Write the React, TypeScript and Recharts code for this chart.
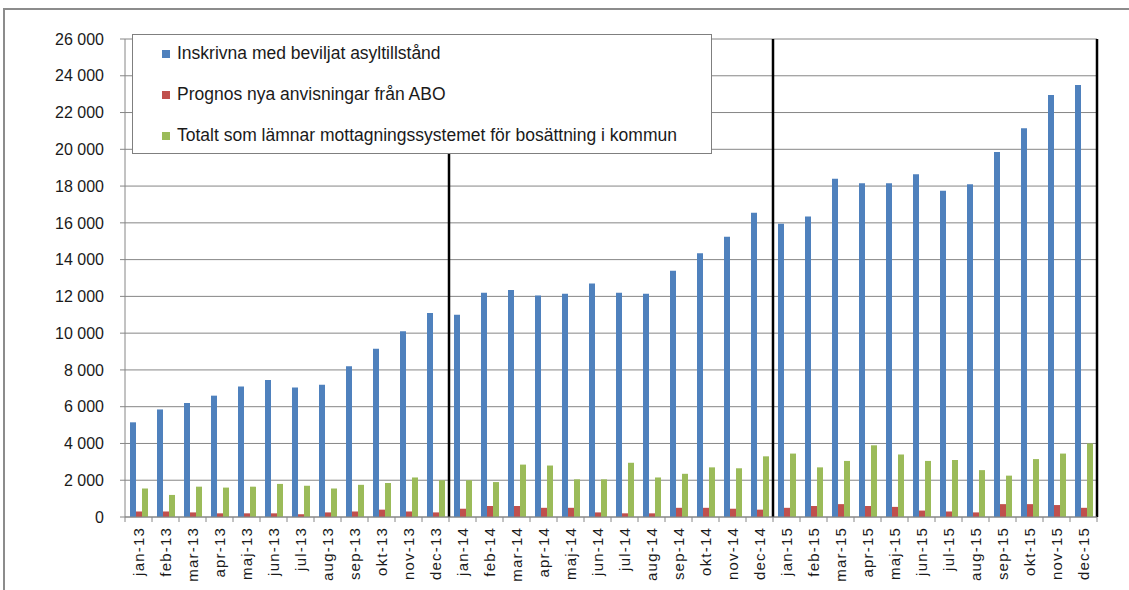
import React from 'react';
import { BarChart, Bar, XAxis, YAxis, CartesianGrid, Legend, ReferenceLine } from 'recharts';

const months = [
  'jan-13', 'feb-13', 'mar-13', 'apr-13', 'maj-13', 'jun-13', 'jul-13', 'aug-13', 'sep-13', 'okt-13', 'nov-13', 'dec-13',
  'jan-14', 'feb-14', 'mar-14', 'apr-14', 'maj-14', 'jun-14', 'jul-14', 'aug-14', 'sep-14', 'okt-14', 'nov-14', 'dec-14',
  'jan-15', 'feb-15', 'mar-15', 'apr-15', 'maj-15', 'jun-15', 'jul-15', 'aug-15', 'sep-15', 'okt-15', 'nov-15', 'dec-15',
];

const inskrivna = [
  5150, 5850, 6200, 6600, 7100, 7450, 7050, 7200, 8200, 9150, 10100, 11100,
  11000, 12200, 12350, 12050, 12150, 12700, 12200, 12150, 13400, 14350, 15250, 16550,
  15950, 16350, 18400, 18150, 18150, 18650, 17750, 18100, 19850, 21150, 22950, 23500,
];

const prognos = [
  300, 300, 250, 200, 200, 200, 150, 250, 300, 400, 300, 250,
  450, 600, 600, 500, 500, 250, 200, 200, 500, 500, 450, 400,
  500, 600, 700, 600, 550, 350, 300, 250, 700, 700, 650, 500,
];

const totalt = [
  1550, 1200, 1650, 1600, 1650, 1800, 1700, 1550, 1750, 1850, 2150, 2000,
  2000, 1900, 2850, 2800, 2050, 2050, 2950, 2150, 2350, 2700, 2650, 3300,
  3450, 2700, 3050, 3900, 3400, 3050, 3100, 2550, 2250, 3150, 3450, 4000,
];

const yTicks = [0, 2000, 4000, 6000, 8000, 10000, 12000, 14000, 16000, 18000, 20000, 22000, 24000, 26000];
const yearStarts = ['jan-14', 'jan-15'];

const series = [
  { key: 'inskrivna', name: 'Inskrivna med beviljat asyltillstånd', color: '#4F81BD' },
  { key: 'prognos', name: 'Prognos nya anvisningar från ABO', color: '#C0504D' },
  { key: 'totalt', name: 'Totalt som lämnar mottagningssystemet för bosättning i kommun', color: '#9BBB59' },
];

const data = months.map((m, i) => ({
  month: m,
  inskrivna: inskrivna[i],
  prognos: prognos[i],
  totalt: totalt[i],
}));

const FONT = '"Liberation Sans", Arial, sans-serif';
const BAND = 27;

const fmt = (v: number) => String(v).replace(/\B(?=(\d{3})+(?!\d))/g, ' ');

const MonthTick = (props: any) => {
  const { x, y, payload, index } = props;
  const last = index === months.length - 1;
  return (
    <g>
      <line x1={x - BAND / 2} x2={x - BAND / 2} y1={y} y2={y + 5} stroke="#868686" />
      {last && <line x1={x + BAND / 2} x2={x + BAND / 2} y1={y} y2={y + 5} stroke="#868686" />}
      <text
        x={x}
        y={y + 10}
        transform={`rotate(-90 ${x} ${y + 10})`}
        textAnchor="end"
        dy="0.35em"
        fill="#1a1a1a"
        fontSize={15}
        letterSpacing={1.2}
        fontFamily={FONT}
      >
        {payload.value}
      </text>
    </g>
  );
};

const LegendBox = () => (
  <div
    style={{
      width: 580,
      height: 120,
      boxSizing: 'border-box',
      border: '1px solid #7f7f7f',
      background: '#fff',
      padding: '8px 0 0 29px',
      fontFamily: FONT,
      fontSize: 17.5,
      color: '#1a1a1a',
    }}
  >
    {series.map((s) => (
      <div key={s.key} style={{ height: 41, display: 'flex', alignItems: 'flex-start' }}>
        <span style={{ display: 'inline-block', width: 8, height: 8, background: s.color, marginTop: 7, marginRight: 7 }} />
        <span>{s.name}</span>
      </div>
    ))}
  </div>
);

export default function App() {
  return (
    <div style={{ position: 'absolute', left: 0, top: 0, width: 1129, height: 590, background: '#fff' }}>
      <div
        style={{
          position: 'absolute',
          left: 3,
          top: 8,
          right: 0,
          bottom: 0,
          borderTop: '2px solid #8c8c8c',
          borderLeft: '2px solid #8c8c8c',
        }}
      />
      <BarChart
        width={1129}
        height={590}
        data={data}
        margin={{ top: 39, right: 32, bottom: 8, left: 60 }}
        barSize={6}
        barGap={0}
      >
        <CartesianGrid vertical={false} stroke="#868686" />
        <XAxis
          dataKey="month"
          interval={0}
          height={65}
          tickSize={0}
          tickMargin={0}
          tick={<MonthTick />}
          axisLine={{ stroke: '#868686' }}
        />
        <YAxis
          width={65}
          domain={[0, 26000]}
          ticks={yTicks}
          tickFormatter={fmt}
          tickSize={5}
          tickMargin={16}
          axisLine={{ stroke: '#868686' }}
          tickLine={{ stroke: '#868686' }}
          tick={{ fill: '#1a1a1a', fontSize: 16, fontFamily: FONT }}
        />
        <Legend
          layout="horizontal"
          verticalAlign="middle"
          align="center"
          content={<LegendBox />}
          wrapperStyle={{ left: 132, top: 34, width: 580, height: 120 }}
        />
        {series.map((s) => (
          <Bar key={s.key} dataKey={s.key} name={s.name} fill={s.color} isAnimationActive={false} />
        ))}
        {yearStarts.map((m) => (
          <ReferenceLine key={m} x={m} position="start" stroke="#000" strokeWidth={2.5} />
        ))}
        <ReferenceLine x="dec-15" position="end" stroke="#000" strokeWidth={2.5} />
      </BarChart>
    </div>
  );
}
